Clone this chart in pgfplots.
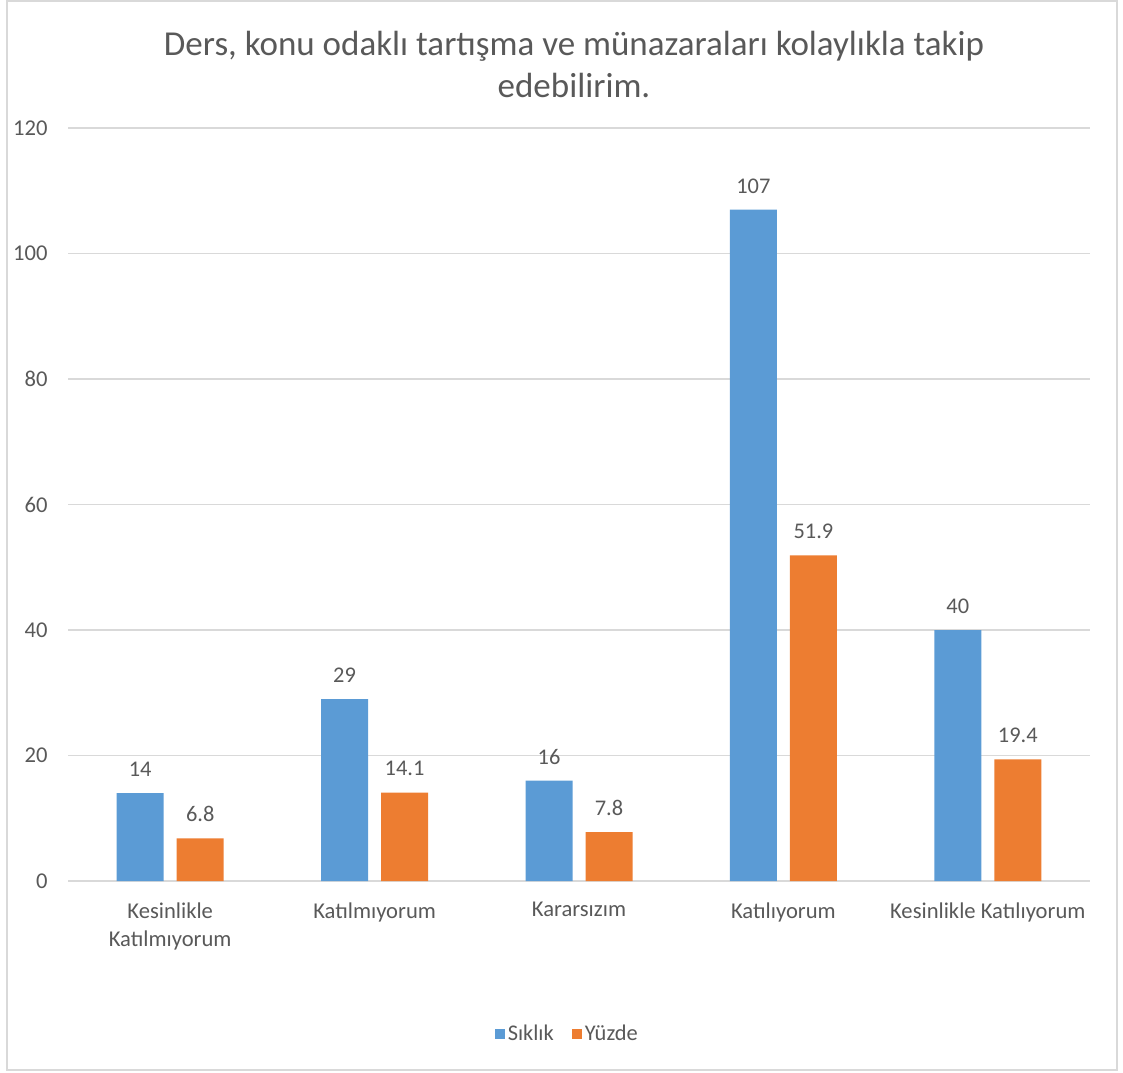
\documentclass[border=0pt]{standalone}
\usepackage{fontspec}
\setmainfont{Carlito}
\usepackage{pgfplots}
\pgfplotsset{compat=1.18}
\definecolor{sblue}{HTML}{5B9BD5}
\definecolor{sorange}{HTML}{ED7D31}
\definecolor{txtgray}{HTML}{595959}
\definecolor{gridgray}{HTML}{D9D9D9}

\begin{document}
\begin{tikzpicture}
\useasboundingbox (0,0) rectangle (561.5pt,536pt);
% chart frame
\draw[gridgray, line width=1pt] (3.5pt,0.8pt) rectangle (558.5pt,535.5pt);
% title
\node[anchor=base, inner sep=0pt, font=\fontsize{17.5}{21}\selectfont, text=txtgray]
  at (287pt,508pt) {Ders, konu odaklı tartışma ve münazaraları kolaylıkla takip};
\node[anchor=base, inner sep=0pt, font=\fontsize{17.5}{21}\selectfont, text=txtgray]
  at (287pt,487pt) {edebilirim.};
\begin{axis}[
  at={(34pt,95.5pt)}, anchor=south west,
  scale only axis, width=511pt, height=376.5pt,
  ybar=6.5pt, bar width=23.5pt,
  xmin=-0.5, xmax=4.5, ymin=0, ymax=120,
  xtick={0,1,2,3,4},
  xticklabels={{Kesinlikle\\Katılmıyorum},Katılmıyorum,Kararsızım,Katılıyorum,Kesinlikle Katılıyorum},
  ytick={0,20,...,120},
  major tick length=0pt,
  ymajorgrids, grid style={gridgray, line width=0.75pt},
  axis line style={draw=none},
  /pgf/number format/assume math mode=true,
  tick label style={font=\fontsize{11.3}{14}\selectfont, text=txtgray},
  yticklabel style={inner sep=0pt, xshift=-10pt},
  xticklabel style={align=center, inner sep=0pt, yshift=-10.5pt},
  nodes near coords,
  nodes near coords style={font=\fontsize{11.2}{13}\selectfont, text=txtgray, anchor=south, inner sep=0pt, yshift=8pt},
  legend style={at={(0.489,-0.2032)}, anchor=center, draw=none, fill=none,
    font=\fontsize{11.2}{13}\selectfont, text=txtgray,
    /tikz/every even column/.append style={column sep=7.5pt},
    nodes={inner sep=1.5pt}},
  legend columns=-1,
  legend image code/.code={\fill[#1] (0pt,-2.5pt) rectangle (5pt,2.5pt);},
]
\addplot[fill=sblue, draw=none] coordinates {(0,14) (1,29) (2,16) (3,107) (4,40)};
\addplot[fill=sorange, draw=none] coordinates {(0,6.8) (1,14.1) (2,7.8) (3,51.9) (4,19.4)};
\legend{Sıklık,Yüzde}
\end{axis}
\end{tikzpicture}
\end{document}
